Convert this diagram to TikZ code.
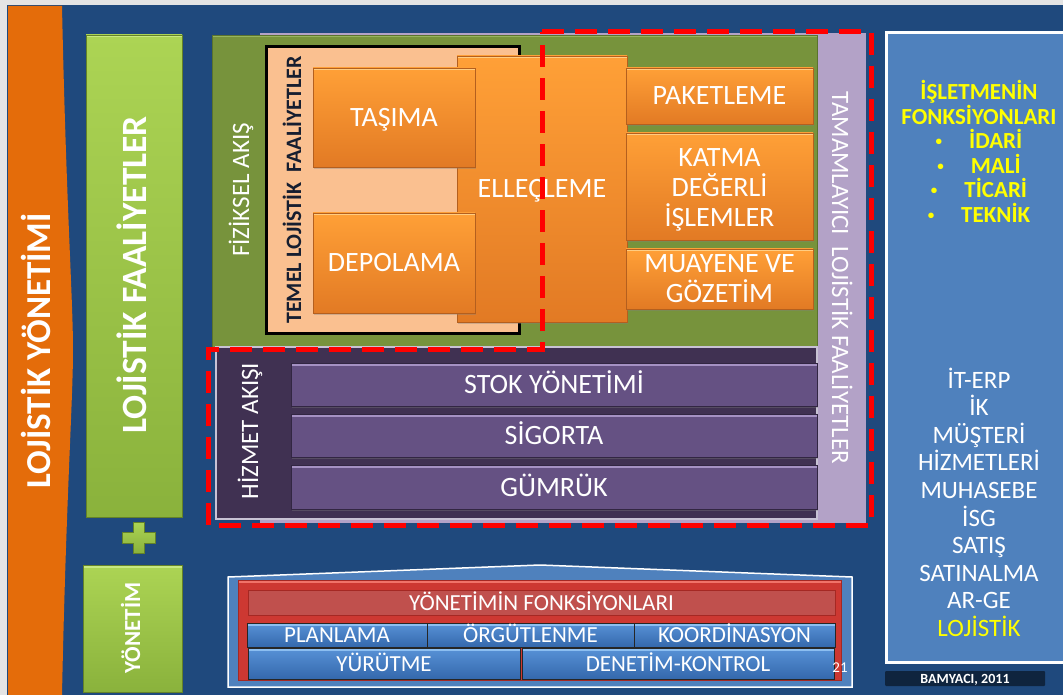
\documentclass[tikz,border=0pt]{standalone}
\usepackage{fontspec}
\setmainfont{Carlito}
\usetikzlibrary{shadows}
\newcommand\myfs[2]{\fontsize{#1}{#2}\selectfont}
\newcommand\mybul{\raisebox{3pt}{\myfs{13}{13}•}\hspace{27pt}}
\definecolor{bgblue}{RGB}{31,73,125}
\definecolor{lgray}{RGB}{228,228,228}
\definecolor{orangestrip}{RGB}{228,108,10}
\definecolor{lgreenT}{RGB}{172,212,84}
\definecolor{lgreenB}{RGB}{138,178,60}
\definecolor{gD}{RGB}{100,130,40}
\definecolor{gHL}{RGB}{200,232,130}
\definecolor{olive}{RGB}{119,147,60}
\definecolor{oliveD}{RGB}{90,115,45}
\definecolor{oliveHL}{RGB}{150,180,95}
\definecolor{peach}{RGB}{250,192,144}
\definecolor{orT}{RGB}{255,160,55}
\definecolor{orB}{RGB}{226,122,36}
\definecolor{orD}{RGB}{180,95,30}
\definecolor{orHL}{RGB}{255,205,130}
\definecolor{lav}{RGB}{179,162,199}
\definecolor{dpurp}{RGB}{64,49,82}
\definecolor{purpL}{RGB}{200,194,212}
\definecolor{purp}{RGB}{101,81,131}
\definecolor{purpD}{RGB}{50,38,66}
\definecolor{pHL}{RGB}{165,145,195}
\definecolor{panel}{RGB}{79,129,189}
\definecolor{navy}{RGB}{15,36,62}
\definecolor{redO}{RGB}{205,56,50}
\definecolor{redD}{RGB}{165,40,35}
\definecolor{redHL}{RGB}{240,115,105}
\definecolor{redI}{RGB}{192,80,77}
\definecolor{btnT}{RGB}{88,146,215}
\definecolor{btnB}{RGB}{52,104,172}
\definecolor{bHL}{RGB}{140,190,240}
\definecolor{mgmt}{RGB}{79,129,189}
\definecolor{ylw}{RGB}{255,255,0}
\definecolor{darktxt}{RGB}{22,30,48}
\tikzset{
 nb/.style={inner sep=0pt, outer sep=0pt},
 bevel/.style={path picture={\fill[#1] (path picture bounding box.north west) rectangle ([yshift=-2.5pt]path picture bounding box.north east);}},
 shad/.style={drop shadow={shadow xshift=1.2pt, shadow yshift=-1.6pt, opacity=0.35}},
 capht/.style={text height=#1, text depth=0pt},
 obox/.style={nb, shad, draw=orD, line width=0.6pt, top color=orT, bottom color=orB, bevel=orHL, text=white, font=\myfs{28}{30}},
 gbox/.style={nb, draw=gD, line width=0.6pt, top color=lgreenT, bottom color=lgreenB, bevel=gHL},
 pbox/.style={nb, shad, fill=purp, draw=purpD, line width=0.6pt, bevel=pHL, text=white, font=\myfs{28}{30}, capht=18pt},
 bbtn/.style={nb, top color=btnT, bottom color=btnB, draw=black!85, line width=0.8pt, bevel=bHL, text=white, font=\myfs{23}{23}, capht=15pt},
 rot/.style={nb, text=white, rotate=90},
 yline/.style={nb, anchor=base, text=ylw, font=\bfseries\myfs{23}{23}},
 wline/.style={nb, anchor=base, text=white, font=\myfs{25}{25}},
 dashred/.style={draw=red, line width=5pt, dash pattern=on 22pt off 11pt},
}
\begin{document}
\begin{tikzpicture}[x=1pt,y=-1pt]
\useasboundingbox (0,0) rectangle (1063,695);
\fill[lgray] (0,0) rectangle (1063,695);
\fill[bgblue] (7,5) rectangle (1063,695);
% orange strip
\fill[orangestrip] (8,6) -- (62,6) .. controls (66,200) and (73,300) .. (73,350) .. controls (73,400) and (66,500) .. (62,695) -- (8,695) -- cycle;
\node[rot, font=\bfseries\myfs{35}{35}, capht=23pt] (lytxt) at (39,351) {LOJİSTİK YÖNETİMİ};
% green bar
\node[gbox, minimum width=96pt, minimum height=482pt] (lfbar) at (134,276) {};
\node[rot, font=\bfseries\myfs{35.5}{35.5}, capht=23pt] (lftxt) at (134.5,275) {LOJİSTİK FAALİYETLER};
% plus
\shade[top color=lgreenT, bottom color=lgreenB, draw=gD, line width=0.5pt] (133,522) -- (144,522) -- (144,532) -- (155,532) -- (155,543) -- (144,543) -- (144,553) -- (133,553) -- (133,543) -- (122,543) -- (122,532) -- (133,532) -- cycle;
% YONETIM
\node[gbox, minimum width=99pt, minimum height=127pt] (ybox) at (132.5,628.5) {};
\node[rot, font=\bfseries\myfs{23}{23}, capht=15pt] (ybtxt) at (132.5,628) {YÖNETİM};
% lavender
\node[nb, fill=lav, minimum width=606pt, minimum height=490pt] (tamam) at (563,278) {};
% olive
\node[nb, fill=olive, draw=oliveD, line width=0.6pt, bevel=oliveHL, minimum width=605pt, minimum height=312pt] (fiz) at (514.5,191) {};
% peach
\node[nb, fill=peach, draw=black, line width=3pt, minimum width=253pt, minimum height=287pt] (temel) at (393,190) {};
% orange boxes
\node[obox, capht=18pt, minimum width=170pt, minimum height=266pt] (ellec) at (542,189) {ELLEÇLEME};
\node[obox, capht=18pt, minimum width=162pt, minimum height=99pt] (tasima) at (394,117.5) {TAŞIMA};
\node[obox, capht=18pt, minimum width=162pt, minimum height=100pt] (depo) at (394,263) {DEPOLAMA};
\node[obox, capht=18pt, minimum width=187pt, minimum height=56pt] (paket) at (719.5,96) {PAKETLEME};
\node[obox, align=center, minimum width=187pt, minimum height=107pt] (katma) at (719.5,186.5) {\rule{0pt}{24pt}KATMA\\DEĞERLİ\\İŞLEMLER};
\node[obox, align=center, minimum width=187pt, minimum height=60pt] (muay) at (719.5,279) {MUAYENE VE\\GÖZETİM};
% rotated labels
\node[rot, font=\myfs{25}{25}, capht=16pt] (fiztxt) at (241,190) {FİZİKSEL AKIŞ};
\node[rot, text=darktxt, font=\bfseries\myfs{22}{22}, capht=14pt] (temeltxt) at (294,190) {TEMEL LOJİSTİK\ \ FAALİYETLER};
\node[nb, rotate=-90, text=white, font=\myfs{25}{25}, capht=16pt] (tamamtxt) at (840,278) {TAMAMLAYICI\ \ LOJİSTİK FAALİYETLER};
% hizmet
\node[nb, fill=dpurp, draw=purpL, line width=1.5pt, minimum width=601pt, minimum height=172pt] (hizmet) at (516.5,433) {};
\node[rot, font=\myfs{25}{25}, capht=16pt] (hiztxt) at (250,431) {HİZMET AKIŞI};
\node[pbox, minimum width=526pt, minimum height=43pt] (stok) at (554,384.5) {STOK YÖNETİMİ};
\node[pbox, minimum width=526pt, minimum height=43pt] (sigorta) at (554,435.5) {SİGORTA};
\node[pbox, minimum width=526pt, minimum height=44pt] (gumruk) at (554,487) {GÜMRÜK};
% right panel
\node[nb, draw=white, line width=3pt, fill=panel, minimum width=190pt, minimum height=630pt] (panel) at (981.5,347.5) {};
\node[yline] (y1) at (979,99.9) {İŞLETMENİN};
\node[yline] (y2) at (979,124.4) {FONKSİYONLARI};
\node[yline] (y3) at (979,148.9) {\mybul İDARİ};
\node[yline] (y4) at (979,173.4) {\mybul MALİ};
\node[yline] (y5) at (979,197.9) {\mybul TİCARİ};
\node[yline] (y6) at (979,222.4) {\mybul TEKNİK};
\node[wline] (w1) at (979,388) {İT-ERP};
\node[wline] (w2) at (979,415.6) {İK};
\node[wline] (w3) at (979,443.2) {MÜŞTERİ};
\node[wline] (w4) at (979,470.8) {HİZMETLERİ};
\node[wline] (w5) at (979,498.4) {MUHASEBE};
\node[wline] (w6) at (979,526) {İSG};
\node[wline] (w7) at (979,553.6) {SATIŞ};
\node[wline] (w8) at (979,581.2) {SATINALMA};
\node[wline] (w9) at (979,608.8) {AR-GE};
\node[wline, text=ylw] (w10) at (979,636.4) {LOJİSTİK};
\node[nb, fill=navy, rounded corners=1pt, minimum width=160pt, minimum height=15pt, text=white, font=\bfseries\myfs{14}{14}, capht=9pt] (bam) at (965,678.5) {BAMYACI, 2011};
% management block
\draw[white, line width=1.5pt, fill=mgmt] (228,577) -- (540,565) -- (852,577) -- (852,687) -- (228,687) -- cycle;
\node[nb, fill=redO, draw=redD, line width=0.6pt, bevel=redHL, minimum width=603pt, minimum height=100pt] (redbox) at (539.5,630) {};
\node[nb, fill=redI, draw=redD, line width=0.6pt, minimum width=587pt, minimum height=25pt, text=white, font=\myfs{23}{23}, capht=15pt] (yfon) at (541.5,602.5) {YÖNETİMİN FONKSİYONLARI};
\node[bbtn, minimum width=180pt, minimum height=24pt] (plan) at (337,635) {PLANLAMA};
\node[bbtn, minimum width=207pt, minimum height=24pt] (orgut) at (530.5,635) {ÖRGÜTLENME};
\node[bbtn, minimum width=201pt, minimum height=24pt] (koord) at (734.5,635) {KOORDİNASYON};
\node[bbtn, minimum width=272pt, minimum height=31pt] (yurut) at (384,663.5) {YÜRÜTME};
\node[bbtn, minimum width=312pt, minimum height=31pt] (denet) at (678,663.5) {DENETİM-KONTROL};
\node[nb, text=white, font=\myfs{15}{15}, capht=10pt] (pg) at (840,667) {21};
% red dashed outline
\draw[dashred] (542,32) -- (871,32) -- (871,525) -- (208,525) -- (208,349) -- (542,349) -- cycle;
\end{tikzpicture}
\end{document}
